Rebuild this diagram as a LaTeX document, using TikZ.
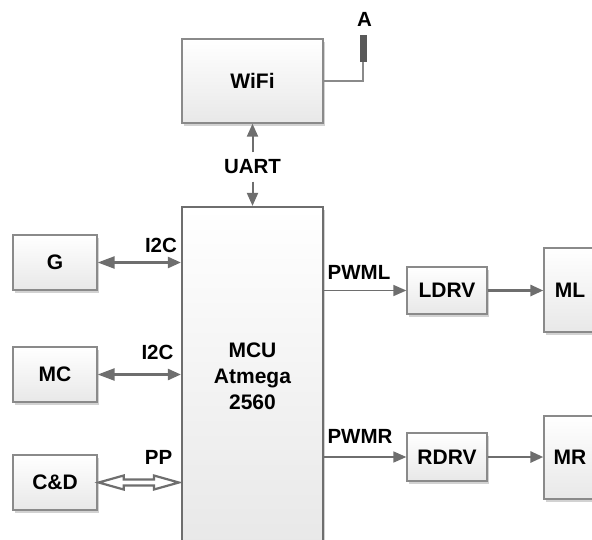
\documentclass[tikz,border=0pt]{standalone}
\usepackage{fontspec}
\setmainfont{Liberation Sans}
\usetikzlibrary{arrows.meta,shadows,calc}
\definecolor{ln}{HTML}{6E6E6E}
\definecolor{bd}{HTML}{8A8A8A}
\tikzset{
  blk/.style={draw=bd, line width=1.3pt, top color=white, bottom color=black!9,
    font=\bfseries\fontsize{21}{26}\selectfont, inner sep=0pt, align=center,
    drop shadow={shadow xshift=1.5pt, shadow yshift=-2.5pt, fill=black!35, opacity=0.5}},
  lbl/.style={font=\bfseries\fontsize{20.5}{24}\selectfont, inner sep=1pt},
  con/.style={draw=ln, line width=2pt},
  head/.style={-{Triangle[length=13pt,width=11pt]}},
  bihead/.style={{Triangle[length=17pt,width=12pt]}-{Triangle[length=13pt,width=11pt]}},
  hollow/.style={draw=ln, line width=2.2pt, fill=white, line join=miter},
}
\begin{document}
\begin{tikzpicture}[x=1pt,y=-1pt]
\useasboundingbox (0,0) rectangle (592,539);
\clip (0,0) rectangle (592,539);
% boxes
\node[blk, minimum width=141pt, minimum height=84pt] (wifi) at (252.5,81) {WiFi};
\node[blk, draw=ln, line width=2.2pt, minimum width=141pt, minimum height=338pt] (mcu) at (252.5,376) {MCU\\Atmega\\2560};
\node[blk, minimum width=84pt, minimum height=55pt] (g) at (55,262.5) {G};
\node[blk, minimum width=84pt, minimum height=55pt] (mc) at (55,374.5) {MC};
\node[blk, minimum width=84pt, minimum height=55pt] (cd) at (55,482.5) {C\&D};
\node[blk, minimum width=80pt, minimum height=47pt] (ldrv) at (447,290.5) {LDRV};
\node[blk, minimum width=80pt, minimum height=48pt] (rdrv) at (447,457) {RDRV};
\node[blk, minimum width=52pt, minimum height=84pt] (ml) at (570,290) {ML};
\node[blk, minimum width=52pt, minimum height=83pt] (mr) at (570,457.5) {MR};
% antenna
\node[fill=black!65, minimum width=7pt, minimum height=27pt, inner sep=0pt] (ant) at (363,48.5) {};
\node[lbl] (A) at (364.5,19) {A};
\draw[draw=bd, line width=1.3pt] (wifi.east) -| (ant.south);
% UART
\node[lbl, fill=white, inner sep=0pt, minimum height=29pt] (uart) at (252.5,167) {UART};
\draw[con, head] (uart) -- (wifi);
\draw[con, head] (uart) -- (mcu);
% I2C links
\draw[con, line width=2.4pt, bihead] (g.east) -- (g.east -| mcu.west);
\node[lbl] (l1) at (161,245.5) {I2C};
\draw[con, line width=2.4pt, bihead] (mc.east) -- (mc.east -| mcu.west);
\node[lbl] (l2) at (157.5,352.5) {I2C};
% PP hollow double arrow
\coordinate (p1) at ([xshift=1pt]cd.east);
\coordinate (p2) at ([xshift=-2pt]cd.east -| mcu.west);
\draw[hollow] (p1) -- ($(p1)+(25,-7)$) -- ($(p1)+(25,-3)$) -- ($(p2)+(-25,-3)$) -- ($(p2)+(-25,-7)$)
  -- (p2) -- ($(p2)+(-25,7)$) -- ($(p2)+(-25,3)$) -- ($(p1)+(25,3)$) -- ($(p1)+(25,7)$) -- cycle;
\node[lbl] (l3) at (158.5,457.5) {PP};
% PWM
\draw[con, line width=1.6pt, head] (mcu.east |- ldrv.west) -- (ldrv.west);
\node[lbl] (l4) at (359,272.5) {PWML};
\draw[con, line width=1.6pt, head] (mcu.east |- rdrv.west) -- (rdrv.west);
\node[lbl] (l5) at (360,436.5) {PWMR};
\draw[con, line width=2.8pt, head] (ldrv.east) -- (ldrv.east -| ml.west);
\draw[con, line width=2.8pt, head] (rdrv.east) -- (rdrv.east -| mr.west);
\end{tikzpicture}
\end{document}
